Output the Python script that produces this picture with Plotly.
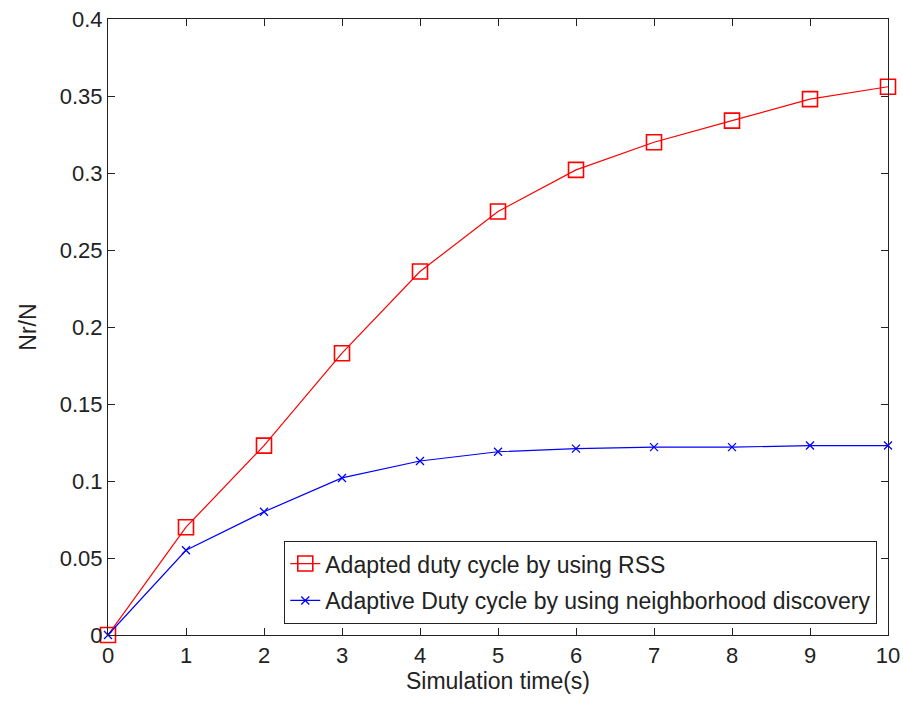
import plotly.graph_objects as go

time_s = [0, 1, 2, 3, 4, 5, 6, 7, 8, 9, 10]
rss_ratio = [0.0, 0.070, 0.123, 0.183, 0.236, 0.275, 0.302, 0.320, 0.334, 0.348, 0.356]
nd_ratio = [0.0, 0.055, 0.080, 0.102, 0.113, 0.119, 0.121, 0.122, 0.122, 0.123, 0.123]
x_ticks = list(range(0, 11))
y_ticks = [0, 0.05, 0.1, 0.15, 0.2, 0.25, 0.3, 0.35, 0.4]
y_tick_text = ["0", "0.05", "0.1", "0.15", "0.2", "0.25", "0.3", "0.35", "0.4"]

font_family = "Liberation Sans, Arial, sans-serif"

fig = go.Figure()
fig.add_trace(go.Scatter(
    x=time_s, y=rss_ratio, mode="lines+markers",
    name="Adapted duty cycle by using RSS", legendgroup="a",
    line=dict(color="#ff0000", width=1.2),
    marker=dict(symbol="square-open", size=15, color="#ff0000", line=dict(width=1.6)),
    cliponaxis=False,
))
fig.add_trace(go.Scatter(
    x=time_s, y=nd_ratio, mode="lines+markers",
    name="Adaptive Duty cycle by using neighborhood discovery", legendgroup="b",
    line=dict(color="#0000ff", width=1.2),
    marker=dict(symbol="x-thin", size=8, color="#0000ff", line=dict(width=1.3, color="#0000ff")),
    cliponaxis=False,
))

axis_common = dict(
    showline=True, linecolor="#222", linewidth=1.2, mirror="ticks",
    ticks="inside", ticklen=7, tickcolor="#222", tickwidth=1.2,
    showgrid=False, zeroline=False, automargin=False,
    tickfont=dict(family=font_family, size=22, color="#222"),
    title_font=dict(family=font_family, size=23, color="#222"),
)

fig.update_layout(
    width=903, height=701,
    margin=dict(l=108, r=15, t=19, b=66),
    paper_bgcolor="white", plot_bgcolor="white",
    xaxis=dict(range=[0, 10], tickvals=x_ticks, title=dict(text="Simulation time(s)", standoff=6), **axis_common),
    yaxis=dict(range=[0, 0.4], tickvals=y_ticks, ticktext=y_tick_text, title=dict(text="Nr/N", standoff=16), **axis_common),
    legend=dict(
        x=0.986, y=0.018, xanchor="right", yanchor="bottom",
        bgcolor="white", bordercolor="#222", borderwidth=1.2,
        font=dict(family=font_family, size=23, color="#222"),
        tracegroupgap=4,
    ),
    showlegend=True,
)

fig.write_html("out.html")
